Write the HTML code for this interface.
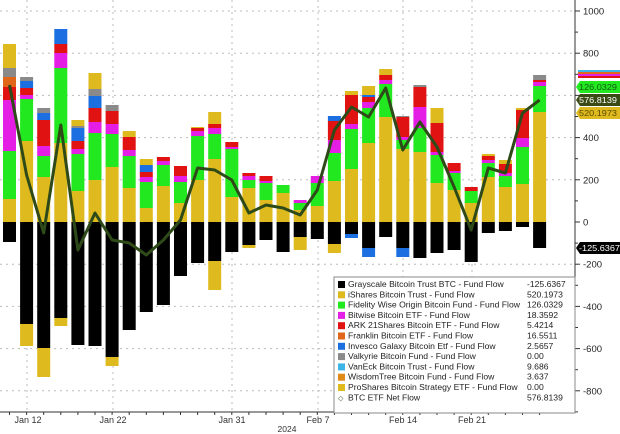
<!DOCTYPE html>
<html><head><meta charset="utf-8"><style>
body{margin:0;background:#fff;}
svg{display:block;font-family:"Liberation Sans",sans-serif;}
</style></head><body>
<svg id="s" width="620" height="434" viewBox="0 0 620 434" xmlns="http://www.w3.org/2000/svg"></svg>
<script>
const S=document.getElementById('s');let h='';
const C={y:'#dfba1f',g:'#22e820',m:'#e41ee4',r:'#e01212',o:'#e0661a',b:'#1c6fe0',a:'#8a8a8a',c:'#3cb4e6',k:'#000'};
for(const v of [1000,800,600,400,200,-200,-400,-600,-800]){const y=222-v*0.211;h+=`<line x1="0" x2="575" y1="${y}" y2="${y}" stroke="#bbb" stroke-dasharray="2,4"/>`;}
for(const x of [27,113,232,318,403,472])h+=`<line x1="${x}" x2="${x}" y1="0" y2="412" stroke="#bbb" stroke-dasharray="2,4"/>`;
const P=[
"y199 g151 m100 r87 o77 a68 y44|k242",
"y141 g99 m95 r88 b81 a77|k324 y346",
"y177 g156 m146 r120 b113 a108|k348 y377",
"y143 g68 m53 r44 b29|k318 y326",
"y191 g154 m149 r141 b128 a126 y120|k345",
"y180 g133 m122 r108 b96 a89 y73|k346",
"y167 g134 m124 r111 a105|k357 y366",
"y188 g156 m150 r137 y131|k330",
"y208 g182 m177 r172 b165 y159|k312",
"y186 g165 m161 r157|k305",
"y203 g182 m176 r166|k276",
"y180 g136 m131 r128 y127|k263",
"y159 g134 m128 r124 y112|k261 y290",
"y197 g149 m147 r142|k252",
"y188 g180 m176 r173|k245 y248",
"y200 g183 m181 r176|k240",
"y193 g185|k252",
"y210 g203 m200|k237 y250",
"y206 g183 m176|k239",
"y181 g153 m140 r121 b116|k244 y253",
"y169 g129 m124 r95 y91|k234 b238",
"y143 g108 m102 r97 b95 y86|k248 b257",
"y117 g84 m80 r75 y69|k237",
"y149 g140 m137 r117 a116|k248 b257",
"y152 g128 m107 r87 a85|k258",
"y183 g155 m152 r123 y108|k253",
"y190 g173 m171 r163|k250",
"y203 g191 r187|k262",
"y177 g163 m160 r156 y154|k233",
"y187 g176 m173 r164 y160|k231",
"y184 g147 m138 r110 y108|k227",
"y112 g86 m82 r80 a75|k248"];
P.forEach((s,i)=>{const x=3+i*17.1;const [p,n]=s.split('|');let prev=222;
p.split(' ').forEach(t=>{const y=+t.slice(1);h+=`<rect x="${x}" y="${y}" width="13" height="${prev-y}" fill="${C[t[0]]}"/>`;prev=y;});
prev=222;n.split(' ').forEach(t=>{const y=+t.slice(1);h+=`<rect x="${x}" y="${prev}" width="13" height="${y-prev}" fill="${C[t[0]]}"/>`;prev=y;});});
const L=[85,175,233,125,250,213,240,243,255,240,220,168,170,180,213,205,208,215,190,130,107,117,88,150,122,147,187,230,168,173,113,100];
h+=`<polyline fill="none" stroke="#2e4a18" stroke-width="3" stroke-linejoin="round" points="${L.map((y,i)=>(9.5+i*17.1)+','+y).join(' ')}"/>`;
h+=`<line x1="575" x2="575" y1="0" y2="412" stroke="#333"/>`;
for(let v=-900;v<=1000;v+=100){const y=222-v*0.211;h+=`<line x1="575" x2="${v%200?578:580}" y1="${y}" y2="${y}" stroke="#333"/>`;}
for(const v of [1000,800,400,200,0,-200,-400,-600,-800]){const y=222-v*0.211;h+=`<text x="583" y="${y+3.5}" font-size="9.5" fill="#222">${v}</text>`;}
[['#3cb4e6',70],['#e0661a',72],['#e41ee4',74],['#e01212',76]].forEach(([c,y])=>h+=`<rect x="578" y="${y}" width="42" height="2" fill="${c}"/>`);
[['#22e820','126.0329',87,'#145a14'],['#3a4a14','576.8139',100,'#fff'],['#dfba1f','520.1973',113,'#5a4a00'],['#000','-125.6367',248,'#fff']].forEach(([c,t,y,f])=>{h+=`<path d="M576 ${y} l4 -6 h40 v12 h-40z" fill="${c}"/><text x="579" y="${y+3}" font-size="8.3" fill="${f}" textLength="${t.length>8?41:38}" lengthAdjust="spacingAndGlyphs">${t}</text>`;});
h+=`<line x1="0" x2="575" y1="412" y2="412" stroke="#333"/>`;
for(let i=0;i<32;i++){const x=9.5+i*17.1;h+=`<line x1="${x}" x2="${x}" y1="412" y2="415" stroke="#333"/>`;}
[['Jan 12',28],['Jan 22',113],['Jan 31',232],['Feb 7',318],['Feb 14',403],['Feb 21',472]].forEach(([t,x])=>h+=`<text x="${x}" y="423" font-size="9" fill="#333" text-anchor="middle">${t}</text>`);
h+=`<text x="287" y="432" font-size="8.5" fill="#333" text-anchor="middle">2024</text>`;
h+=`<rect x="334" y="277" width="241" height="136" fill="#fff" stroke="#888"/>`;
const G=[['#000','Grayscale Bitcoin Trust BTC - Fund Flow','-125.6367'],['#dfba1f','iShares Bitcoin Trust - Fund Flow','520.1973'],['#22e820','Fidelity Wise Origin Bitcoin Fund - Fund Flow','126.0329'],['#e41ee4','Bitwise Bitcoin ETF - Fund Flow','18.3592'],['#e01212','ARK 21Shares Bitcoin ETF - Fund Flow','5.4214'],['#e0661a','Franklin Bitcoin ETF - Fund Flow','16.5511'],['#1c6fe0','Invesco Galaxy Bitcoin Etf - Fund Flow','2.5657'],['#8a8a8a','Valkyrie Bitcoin Fund - Fund Flow','0.00'],['#3cb4e6','VanEck Bitcoin Trust - Fund Flow','9.686'],['#e08a1a','WisdomTree Bitcoin Fund - Fund Flow','3.637'],['#dfba1f','ProShares Bitcoin Strategy ETF - Fund Flow','0.00'],[null,'BTC ETF Net Flow','576.8139']];
G.forEach(([c,t,v],i)=>{const y=287+i*10.3;
if(c)h+=`<rect x="338" y="${y-6}" width="7" height="7" fill="${c}"/>`;else h+=`<text x="338" y="${y}" font-size="7" fill="#2e4a18">◇</text>`;
h+=`<text x="348" y="${y}" font-size="8.6" fill="#222">${t}</text><text x="527" y="${y}" font-size="8.6" fill="#222">${v}</text>`;});
S.innerHTML=h;
</script>
</body></html>
